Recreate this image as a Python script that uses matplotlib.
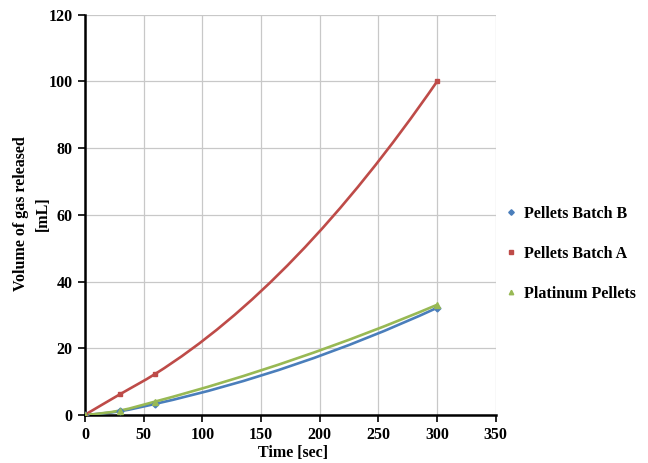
import numpy as np
import matplotlib.pyplot as plt
from matplotlib.path import Path
from matplotlib.patches import PathPatch

# data
time_s = [0, 30, 60, 300]
batch_b = [0, 1.1, 3.3, 32.1]
batch_a = [0, 6.2, 12.3, 100]
platinum = [0, 1.3, 4.0, 33.0]

blue = '#4A7EBB'
red = '#BE4B48'
green = '#98B954'

plt.rcParams['font.family'] = ['Liberation Serif', 'DejaVu Serif']
plt.rcParams['font.weight'] = 'bold'


def smooth_path(x, y):
    # smoothed line like a spreadsheet: cubic bezier between the points,
    # slopes taken from the parabola through the neighbours
    x = np.asarray(x, float)
    y = np.asarray(y, float)
    n = len(x)
    d = np.zeros(n)
    for i in range(n):
        a, b, c = (0, 1, 2) if i == 0 else ((n - 3, n - 2, n - 1) if i == n - 1 else (i - 1, i, i + 1))
        f01 = (y[b] - y[a]) / (x[b] - x[a])
        f12 = (y[c] - y[b]) / (x[c] - x[b])
        f012 = (f12 - f01) / (x[c] - x[a])
        d[i] = f01 + f012 * ((x[i] - x[a]) + (x[i] - x[b]))
    verts = [(x[0], y[0])]
    codes = [Path.MOVETO]
    for i in range(n - 1):
        h = (x[i + 1] - x[i]) / 3
        verts += [(x[i] + h, y[i] + d[i] * h), (x[i + 1] - h, y[i + 1] - d[i + 1] * h), (x[i + 1], y[i + 1])]
        codes += [Path.CURVE4] * 3
    return Path(verts, codes)


fig = plt.figure(figsize=(6.48, 4.63), dpi=100)
ax = fig.add_axes([0.131, 0.104, 0.634, 0.864])

series = [(batch_b, blue, 'D', 3.5, 'Pellets Batch B'),
          (batch_a, red, 's', 3.5, 'Pellets Batch A'),
          (platinum, green, '^', 4, 'Platinum Pellets')]
for vals, col, mk, ms, lab in series:
    ax.add_patch(PathPatch(smooth_path(time_s, vals), facecolor='none', edgecolor=col, lw=1.9, zorder=3))
    ax.plot(time_s, vals, ls='none', marker=mk, ms=ms, color=col, label=lab, zorder=4)

ax.set_xlim(0, 350)
ax.set_ylim(0, 120)
ax.set_xticks(range(0, 351, 50))
ax.set_yticks(range(0, 121, 20))
ax.grid(True, color='#c8c8c8', lw=0.9)
ax.set_axisbelow(True)
for s in ['top', 'right']:
    ax.spines[s].set_visible(False)
for s in ['left', 'bottom']:
    ax.spines[s].set_linewidth(1.8)
ax.tick_params(direction='out', length=5, width=1.2, labelsize=11.5, pad=4)
for lbl in ax.get_xticklabels() + ax.get_yticklabels():
    lbl.set_fontweight('bold')

# axis titles placed like in the original
fig.text(0.452, 0.022, 'Time [sec]', fontsize=11.5, fontweight='bold', ha='center', va='center')
fig.text(0.049, 0.538, 'Volume of gas released\n[mL]', fontsize=11.5, fontweight='bold',
         ha='center', va='center', rotation=90, linespacing=1.45, multialignment='center')

ax.legend(loc='center left', bbox_to_anchor=(0.99, 0.402), frameon=False, prop={'size': 11.5, 'weight': 'bold'},
          handlelength=0.6, handletextpad=0.5, labelspacing=1.5, markerscale=0.8)

fig.savefig('out.png', dpi=100)
